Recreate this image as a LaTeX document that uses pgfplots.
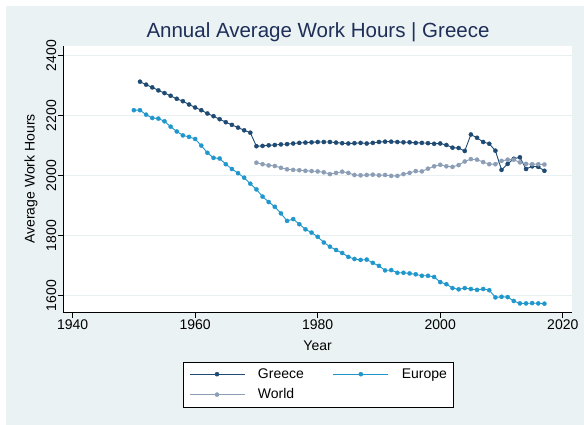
\documentclass[border=0pt]{standalone}
\usepackage{pgfplots}
\pgfplotsset{compat=1.18}
\usepackage{pgfplotstable}
\usepackage{fontspec}
\setmainfont{Liberation Sans}
\definecolor{bgc}{HTML}{EAF2F3}
\definecolor{gridc}{HTML}{E9F0F2}
\definecolor{greecec}{HTML}{1E4A73}
\definecolor{europec}{HTML}{1F97CC}
\definecolor{worldc}{HTML}{8B9EB6}
\definecolor{titlec}{HTML}{1E2E58}

\pgfplotstableread{
year val
1951 2313
1952 2303
1953 2294
1954 2284
1955 2275
1956 2266
1957 2256
1958 2248
1959 2237
1960 2227
1961 2218
1962 2207
1963 2198
1964 2188
1965 2178
1966 2169
1967 2160
1968 2151
1969 2143
1970 2098
1971 2099
1972 2101
1973 2102
1974 2104
1975 2105
1976 2107
1977 2109
1978 2110
1979 2111
1980 2112
1981 2112
1982 2112
1983 2110
1984 2108
1985 2107
1986 2108
1987 2109
1988 2107
1989 2109
1990 2112
1991 2113
1992 2113
1993 2112
1994 2111
1995 2111
1996 2109
1997 2109
1998 2108
1999 2106
2000 2107
2001 2102
2002 2093
2003 2092
2004 2082
2005 2137
2006 2126
2007 2112
2008 2106
2009 2083
2010 2019
2011 2039
2012 2056
2013 2061
2014 2022
2015 2031
2016 2029
2017 2016
}\greece

\pgfplotstableread{
year val
1950 2218
1951 2218
1952 2203
1953 2192
1954 2190
1955 2181
1956 2163
1957 2147
1958 2134
1959 2129
1960 2122
1961 2100
1962 2076
1963 2059
1964 2057
1965 2038
1966 2022
1967 2008
1968 1993
1969 1973
1970 1954
1971 1930
1972 1912
1973 1896
1974 1874
1975 1849
1976 1855
1977 1838
1978 1821
1979 1810
1980 1796
1981 1777
1982 1763
1983 1752
1984 1742
1985 1729
1986 1722
1987 1719
1988 1720
1989 1709
1990 1699
1991 1684
1992 1685
1993 1676
1994 1676
1995 1674
1996 1671
1997 1666
1998 1666
1999 1662
2000 1645
2001 1638
2002 1625
2003 1621
2004 1625
2005 1622
2006 1619
2007 1622
2008 1618
2009 1594
2010 1596
2011 1595
2012 1582
2013 1574
2014 1574
2015 1575
2016 1574
2017 1573
}\europe

\pgfplotstableread{
year val
1970 2043
1971 2038
1972 2034
1973 2032
1974 2026
1975 2021
1976 2019
1977 2018
1978 2016
1979 2015
1980 2014
1981 2011
1982 2005
1983 2009
1984 2013
1985 2009
1986 2002
1987 2001
1988 2002
1989 2003
1990 2001
1991 2002
1992 1999
1993 1999
1994 2005
1995 2009
1996 2015
1997 2014
1998 2023
1999 2031
2000 2036
2001 2031
2002 2029
2003 2035
2004 2047
2005 2055
2006 2053
2007 2045
2008 2038
2009 2038
2010 2049
2011 2053
2012 2053
2013 2044
2014 2039
2015 2038
2016 2038
2017 2037
}\world

\begin{document}
\begin{tikzpicture}[x=1pt,y=1pt]
\fill[white] (0,0) rectangle (584,425);
\fill[bgc] (6,0) rectangle (584,419);
\begin{axis}[
  at={(63.4pt,112.3pt)}, anchor=south west,
  scale only axis, width=508.6pt, height=266.7pt,
  xmin=1938.5, xmax=2021.5, ymin=1543, ymax=2432,
  axis background/.style={fill=white},
  axis x line*=bottom, axis y line*=left,
  axis line style={black, line width=0.7pt},
  xtick={1940,1960,1980,2000,2020},
  ytick={1600,1800,2000,2200,2400},
  tick align=outside, major tick length=5pt,
  tick style={black, line width=0.7pt},
  ymajorgrids, grid style={gridc, line width=0.9pt},
  /pgf/number format/assume math mode=true,
  /pgf/number format/1000 sep={},
  tick label style={font=\fontsize{14}{16}\selectfont, text=black},
  yticklabel style={rotate=90, anchor=south, inner sep=2pt},
  xticklabel style={inner sep=2pt},
  clip=false,
  legend columns=2,
  legend style={at={(0.5006,-0.1837)}, anchor=north, draw=black, line width=0.7pt,
    font=\fontsize{14}{16}\selectfont, inner xsep=6pt, inner ysep=6.5pt,
    nodes={inner sep=0pt},
    /tikz/every odd column/.append style={column sep=13pt},
    /tikz/every even column/.append style={column sep=29pt},
    row sep=9pt},
  legend cell align=left,
  legend image code/.code={\draw[#1, mark repeat=2, mark phase=2] plot coordinates {(0pt,0pt) (27.5pt,0pt) (55pt,0pt)};},
  every axis plot/.append style={line width=0.9pt, mark=*, mark size=2.1pt},
]
\addplot[greecec, mark options={fill=greecec, draw=greecec, line width=0.3pt}] table[x=year,y=val]{\greece};
\addlegendentry{Greece}
\addplot[europec, mark options={fill=europec, draw=europec, line width=0.3pt}] table[x=year,y=val]{\europe};
\addlegendentry{Europe}
\addplot[worldc, mark options={fill=worldc, draw=worldc, line width=0.3pt}] table[x=year,y=val]{\world};
\addlegendentry{World}
\end{axis}
\node[anchor=base, text=titlec, font=\fontsize{20.5}{23}\selectfont] at (318,387.7) {Annual Average Work Hours | Greece};
\node[anchor=base, font=\fontsize{14}{16}\selectfont] at (317.6,74) {Year};
\node[anchor=center, rotate=90, font=\fontsize{14}{16}\selectfont] at (31,246) {Average Work Hours};
\end{tikzpicture}
\end{document}
